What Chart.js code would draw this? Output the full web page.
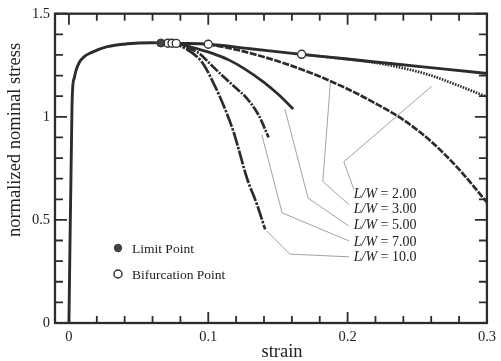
<!DOCTYPE html>
<html>
<head>
<meta charset="utf-8">
<script src="https://cdn.jsdelivr.net/npm/chart.js@4"></script>
<style>
  body { margin: 0; background: #fff; }
  #wrap { width: 501px; height: 361px; }
</style>
</head>
<body>
<div id="wrap"><canvas id="c" width="501" height="361"></canvas></div>
<script>
// fundamental (uniform) solution
const strainBase = [0, 0.0022, 0.0028, 0.0039, 0.005, 0.0074, 0.011, 0.016, 0.0275, 0.042, 0.06, 0.066, 0.08, 0.1, 0.13, 0.167, 0.2, 0.234, 0.27, 0.3];
const stressBase = [0, 1.05, 1.15, 1.19, 1.223, 1.263, 1.292, 1.311, 1.34, 1.354, 1.359, 1.358, 1.356, 1.352, 1.33, 1.303, 1.28, 1.256, 1.231, 1.21];

// bifurcated branches
const strainLW2 = [0.167, 0.2, 0.215, 0.23, 0.245, 0.26, 0.28, 0.3];
const stressLW2 = [1.303, 1.279, 1.267, 1.25, 1.228, 1.2, 1.15, 1.097];
const strainLW3 = [0.1, 0.12, 0.14, 0.16, 0.18, 0.2, 0.22, 0.24, 0.26, 0.28, 0.3];
const stressLW3 = [1.352, 1.326, 1.29, 1.247, 1.195, 1.135, 1.065, 0.985, 0.88, 0.745, 0.585];
const strainLW5 = [0.077, 0.085, 0.093, 0.102, 0.115, 0.1255, 0.14, 0.15, 0.161];
const stressLW5 = [1.356, 1.343, 1.328, 1.31, 1.275, 1.235, 1.167, 1.11, 1.038];
const strainLW7 = [0.074, 0.083, 0.093, 0.102, 0.11, 0.118, 0.128, 0.136, 0.1433];
const stressLW7 = [1.357, 1.338, 1.31, 1.252, 1.2, 1.151, 1.087, 1.01, 0.9];
const strainLW10 = [0.071, 0.08, 0.0926, 0.097, 0.104, 0.111, 0.118, 0.121, 0.1278, 0.135, 0.1408];
const stressLW10 = [1.357, 1.343, 1.287, 1.25, 1.16, 1.055, 0.93, 0.862, 0.702, 0.574, 0.454];

// special points
const limitStrain = [0.066];
const limitStress = [1.358];
const bifStrain = [0.071, 0.074, 0.077, 0.1, 0.167];
const bifStress = [1.357, 1.357, 1.356, 1.352, 1.303];

// labels and their leader lines
const caseLabels = ['2.00', '3.00', '5.00', '7.00', '10.0'];
const labelStrain = 0.2044;
const labelStress = [0.625, 0.55, 0.473, 0.393, 0.317];
const leaderStrain = [[0.2603, 0.1973, 0.2046], [0.1876, 0.1822, 0.201], [0.155, 0.1716, 0.201], [0.1385, 0.153, 0.201], [0.142, 0.1585, 0.201]];
const leaderStress = [[1.148, 0.782, 0.646], [1.163, 0.686, 0.574], [1.038, 0.606, 0.47], [0.911, 0.534, 0.398], [0.446, 0.334, 0.321]];

// axes
const xTickVals = [0, 0.1, 0.2, 0.3];
const yTickVals = [0, 0.5, 1, 1.5];
const xMinor = [0.02, 0.04, 0.06, 0.08, 0.12, 0.14, 0.16, 0.18, 0.22, 0.24, 0.26, 0.28];
const yMinor = [0.1, 0.2, 0.3, 0.4, 0.6, 0.7, 0.8, 0.9, 1.1, 1.2, 1.3, 1.4];

const ink = '#2c2c2c';
const serif = 'Liberation Serif';

function pts(xs, ys) { return xs.map((v, i) => ({x: v, y: ys[i]})); }

function curve(xs, ys, dash, w) {
  return {
    data: pts(xs, ys), showLine: true, borderColor: ink, borderWidth: w || 2.7,
    borderDash: dash || [], pointRadius: 0, cubicInterpolationMode: 'monotone', fill: false
  };
}

const datasets = [
  {data: pts(limitStrain, limitStress), pointRadius: 4, pointBackgroundColor: '#444', pointBorderColor: '#333', pointBorderWidth: 1},
  {data: pts(bifStrain, bifStress), pointRadius: 4, pointBackgroundColor: '#fff', pointBorderColor: '#333', pointBorderWidth: 1.4},
  curve(strainBase, stressBase, [], 2.9),
  curve(strainLW2, stressLW2, [1.6, 1.2]),
  curve(strainLW3, stressLW3, [7, 1.5]),
  curve(strainLW5, stressLW5, []),
  curve(strainLW7, stressLW7, [10, 1.5, 2, 1.5]),
  curve(strainLW10, stressLW10, [14, 1.5, 2.5, 1.5])
];
leaderStrain.forEach((xs, i) => {
  datasets.push({data: pts(xs, leaderStress[i]), showLine: true, borderColor: '#8a8a8a', borderWidth: 0.8, pointRadius: 0, tension: 0});
});

const decor = {
  id: 'decor',
  afterDraw(chart) {
    const {ctx, chartArea: a, scales: {x, y}} = chart;
    ctx.save();
    ctx.strokeStyle = ink;
    ctx.lineWidth = 1.8;
    // inward ticks on all four sides
    const tick = (v, len, axis) => {
      ctx.beginPath();
      if (axis === 'x') {
        const px = x.getPixelForValue(v);
        ctx.moveTo(px, a.bottom); ctx.lineTo(px, a.bottom - len);
        ctx.moveTo(px, a.top); ctx.lineTo(px, a.top + len);
      } else {
        const py = y.getPixelForValue(v);
        ctx.moveTo(a.left, py); ctx.lineTo(a.left + len, py);
        ctx.moveTo(a.right, py); ctx.lineTo(a.right - len, py);
      }
      ctx.stroke();
    };
    xTickVals.forEach(v => tick(v, 11, 'x'));
    xMinor.forEach(v => tick(v, 7, 'x'));
    yTickVals.forEach(v => tick(v, 12, 'y'));
    yMinor.forEach(v => tick(v, 8, 'y'));
    // frame
    ctx.lineWidth = 2.3;
    ctx.strokeRect(a.left, a.top, a.right - a.left, a.bottom - a.top);

    // case labels
    ctx.fillStyle = '#222';
    ctx.textBaseline = 'middle';
    ctx.textAlign = 'left';
    caseLabels.forEach((t, i) => {
      const px = x.getPixelForValue(labelStrain);
      const py = y.getPixelForValue(labelStress[i]);
      ctx.font = 'italic 14px "' + serif + '"';
      ctx.fillText('L/W', px, py);
      const w = ctx.measureText('L/W').width;
      ctx.font = '14px "' + serif + '"';
      ctx.fillText(' = ' + t, px + w, py);
    });

    // legend
    const lx = a.left + 63, ly1 = 248, ly2 = 274;
    ctx.beginPath(); ctx.arc(lx, ly1, 4.2, 0, Math.PI * 2);
    ctx.fillStyle = '#444'; ctx.fill();
    ctx.beginPath(); ctx.arc(lx, ly2, 4, 0, Math.PI * 2);
    ctx.fillStyle = '#fff'; ctx.fill(); ctx.lineWidth = 1.4; ctx.stroke();
    ctx.fillStyle = '#222';
    ctx.font = '13.5px "' + serif + '"';
    ctx.fillText('Limit Point', lx + 14, ly1 + 1);
    ctx.fillText('Bifurcation Point', lx + 14, ly2 + 1);

    // axis titles
    ctx.font = '18.5px "' + serif + '"';
    ctx.textAlign = 'center';
    ctx.fillText('strain', 282, 352);
    ctx.translate(15, 140);
    ctx.rotate(-Math.PI / 2);
    ctx.fillText('normalized nominal stress', 0, 0);
    ctx.restore();
  }
};

new Chart(document.getElementById('c'), {
  type: 'scatter',
  data: {datasets: datasets},
  options: {
    responsive: false,
    animation: false,
    layout: {padding: {top: 10, right: 8, left: 0, bottom: 0}, autoPadding: false},
    plugins: {legend: {display: false}, tooltip: {enabled: false}},
    scales: {
      x: {
        type: 'linear', min: -0.01, max: 0.3,
        grid: {display: false, drawTicks: false}, border: {display: false},
        afterBuildTicks: s => { s.ticks = xTickVals.map(v => ({value: v})); },
        afterFit: s => { s.height = 38; },
        ticks: {padding: 5, color: '#222', font: {family: serif, size: 14.5}, maxRotation: 0,
          callback: v => String(v)}
      },
      y: {
        type: 'linear', min: 0, max: 1.5,
        grid: {display: false, drawTicks: false}, border: {display: false},
        afterBuildTicks: s => { s.ticks = yTickVals.map(v => ({value: v})); },
        afterFit: s => { s.width = 55; },
        ticks: {padding: 5, color: '#222', font: {family: serif, size: 14.5},
          callback: v => String(v)}
      }
    }
  },
  plugins: [decor]
});
</script>
</body>
</html>
